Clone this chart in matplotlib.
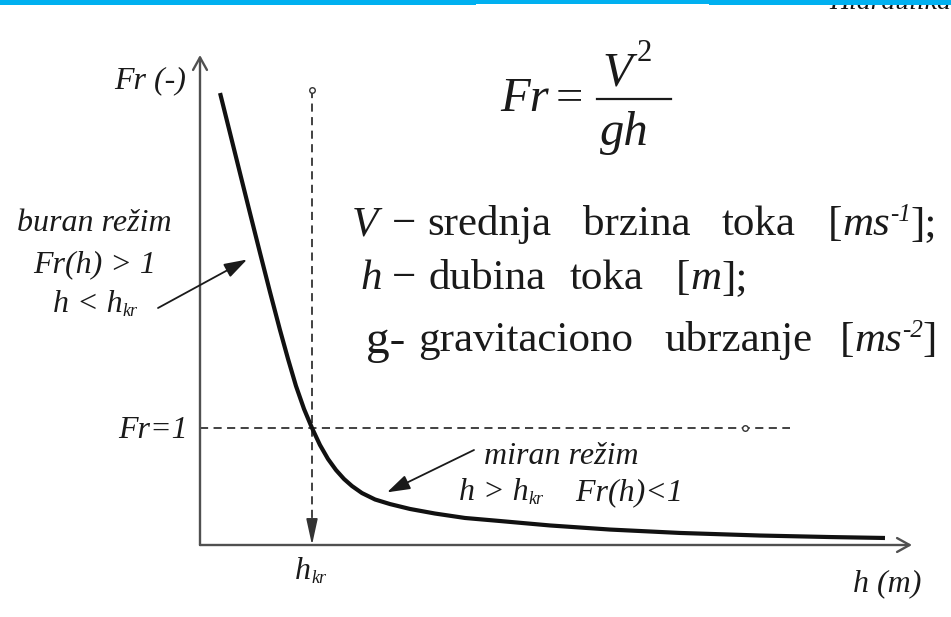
import matplotlib
matplotlib.use("Agg")
import matplotlib.pyplot as plt
from matplotlib.patches import Rectangle

plt.rcParams["font.family"] = ["Liberation Serif", "DejaVu Serif"]

# Froude number against flow depth (depth scaled so that h_kr = 1)
depth = [0.179, 0.268, 0.357, 0.446, 0.536, 0.625, 0.714, 0.786, 0.857, 0.929,
         1.000, 1.071, 1.143, 1.214, 1.286, 1.357, 1.446, 1.563, 1.696, 1.875,
         2.098, 2.366, 2.679, 3.125, 3.661, 4.286, 5.000, 5.625, 6.116]
froude = [3.863, 3.521, 3.179, 2.838, 2.496, 2.162, 1.838, 1.590, 1.359, 1.162,
          1.000, 0.855, 0.735, 0.641, 0.564, 0.504, 0.444, 0.389, 0.350, 0.308,
          0.269, 0.231, 0.205, 0.167, 0.132, 0.103, 0.081, 0.068, 0.060]
h_kr = 1.0
fr_crit = 1.0

# guide lines
fr_guide_top = 3.89     # upper end of the vertical h_kr guide
h_guide_end = 5.27      # right end of the Fr = 1 guide
h_guide_mark = 4.87     # small ring on the Fr = 1 guide

# points on the curve that the regime pointers aim at
buran_tip = (0.42, 2.44)
miran_tip = (1.67, 0.45)

W, H = 951, 617
fig = plt.figure(figsize=(W / 100, H / 100), dpi=100)
renderer = fig.canvas.get_renderer()
ink = "#1a1a1a"


def fpx(x, y):
    """figure pixel (from top-left) -> figure fraction"""
    return (x / W, 1 - y / H)


def run(x, y, parts, ha="left"):
    """Lay out text pieces one after another on a common baseline.
    parts: (text, fontsize, rise_px, italic); a None text is a gap of fontsize px"""
    arts, cx = [], x
    for txt, fs, rise, ital in parts:
        if txt is None:
            cx += fs
            continue
        t = fig.text(*fpx(cx, y - rise), txt, ha="left", va="baseline",
                     fontsize=fs, style="italic" if ital else "normal", color=ink)
        arts.append((t, cx, y - rise))
        cx += t.get_window_extent(renderer).width
    if ha in ("center", "right"):
        shift = (cx - x) / 2 if ha == "center" else cx - x
        for t, px_, py_ in arts:
            t.set_position(fpx(px_ - shift, py_))
    return cx


# plot frame: origin and axis-arrow tips in figure pixels
ox, oy, tx, ty = 200, 545, 912, 55
px_per_h, px_per_fr = 112.0, 117.0
h_max = (tx - ox) / px_per_h
fr_max = (oy - ty) / px_per_fr
ax = fig.add_axes([ox / W, 1 - oy / H, (tx - ox) / W, (oy - ty) / H])
ax.set_xlim(0, h_max)
ax.set_ylim(0, fr_max)
ax.axis("off")

axis_col = "#505050"
guide_col = "#333333"

# axes with open arrow heads
axis_kw = dict(arrowstyle="->,head_length=0.9,head_width=0.5", color=axis_col,
               lw=1.7, shrinkA=0, shrinkB=0, mutation_scale=10)
ax.annotate("", xy=(h_max, 0), xytext=(0, 0), arrowprops=axis_kw, annotation_clip=False)
ax.annotate("", xy=(0, fr_max), xytext=(0, 0), arrowprops=axis_kw, annotation_clip=False)

# Fr(h) curve
ax.plot(depth, froude, color="#111111", lw=3.0, solid_joinstyle="round",
        solid_capstyle="butt", clip_on=False, zorder=5)

# dashed guides
dash_kw = dict(color=guide_col, lw=1.3, dashes=(4.5, 3.0), clip_on=False)
head_len = 22 / px_per_fr
ax.plot([h_kr, h_kr], [fr_guide_top, head_len], **dash_kw)
ax.annotate("", xy=(h_kr, 0), xytext=(h_kr, head_len),
            arrowprops=dict(arrowstyle="-|>,head_length=1.6,head_width=0.35",
                            mutation_scale=10, color=guide_col, lw=1.2,
                            shrinkA=0, shrinkB=0), annotation_clip=False)
ax.plot([0, h_guide_end], [fr_crit, fr_crit], **dash_kw)
ring_kw = dict(marker="o", ms=4, mfc="white", mec=guide_col, mew=1.0, clip_on=False, zorder=6)
ax.plot([h_kr], [fr_guide_top], **ring_kw)
ax.plot([h_guide_mark], [fr_crit], **ring_kw)

# regime pointers
ptr_kw = dict(arrowstyle="-|>,head_length=1.4,head_width=0.45", mutation_scale=10,
              color=ink, lw=1.3, shrinkA=0, shrinkB=0)
ax.annotate("", xy=buran_tip, xytext=fpx(158, 308), textcoords="figure fraction",
            arrowprops=ptr_kw, annotation_clip=False)
ax.annotate("", xy=miran_tip, xytext=fpx(474, 450), textcoords="figure fraction",
            arrowprops=ptr_kw, annotation_clip=False)

# axis labels
fs = 23
fsub = 13
run(186, 88, [("Fr (-)", fs, 0, True)], ha="right")
run(188, 438, [("Fr=1", fs, 0, True)], ha="right")
run(295, 579, [("h", fs, 0, True), ("kr", fsub, -4, True)])
run(853, 591, [("h (m)", fs, 0, True)])

# supercritical flow note
run(94, 231, [("buran režim", fs, 0, True)], ha="center")
run(95, 272, [("Fr(h) > 1", fs, 0, True)], ha="center")
run(95, 312, [("h < h", fs, 0, True), ("kr", fsub, -4, True)], ha="center")

# subcritical flow note
run(484, 464, [("miran režim", fs, 0, True)])
run(459, 500, [("h > h", fs, 0, True), ("kr", fsub, -4, True),
               ("    Fr(h)<1", fs, 0, True)])

# Froude number definition
fe = 35
run(500, 111, [("Fr", fe, 0, True)])
run(556, 111, [("=", fe, 0, False)])
fig.add_artist(plt.Line2D([597 / W, 671 / W], [1 - 99 / H, 1 - 99 / H],
                          transform=fig.transFigure, color=ink, lw=1.6))
run(602, 86, [("V", fe, 0, True), (None, 5, 0, False), ("2", 22, 25, False)])
run(600, 145, [("gh", fe, 0, True)])

# symbol legend
fd = 31
fsup = 18
y1, y2, y3 = 235, 289, 351
run(352, y1, [("V", fd, 0, True)])
run(392, y1, [("−", fd, 0, False)])
run(427, y1, [("srednja", fd, 0, False)])
run(583, y1, [("brzina", fd, 0, False)])
run(722, y1, [("toka", fd, 0, False)])
run(937, y1, [("[", fd, 0, False), ("ms", fd, 0, True), ("-1", fsup, 14, True),
              ("];", fd, 0, False)], ha="right")

run(360, y2, [("h", fd, 0, True)])
run(392, y2, [("−", fd, 0, False)])
run(428, y2, [("dubina", fd, 0, False)])
run(570, y2, [("toka", fd, 0, False)])
run(676, y2, [("[", fd, 0, False), ("m", fd, 0, True), ("];", fd, 0, False)])

run(366, y3 + 2, [("g-", 34, 0, False)])
run(418, y3, [("gravitaciono", fd, 0, False)])
run(664, y3, [("ubrzanje", fd, 0, False)])
run(937, y3, [("[", fd, 0, False), ("ms", fd, 0, True), ("-2", fsup, 14, True),
              ("]", fd, 0, False)], ha="right")

# page header strip with the running title tucked beneath it
fig.text(*fpx(951, 9), "Hidraulika", ha="right", va="baseline", style="italic",
         fontsize=20, color="#111111")
bar_color = "#00B0F0"
for x0, x1, hgt in [(0, 476, 4.7), (476, 709, 4.0), (709, 951, 5.0)]:
    fig.add_artist(Rectangle((x0 / W, 1 - hgt / H), (x1 - x0) / W, hgt / H,
                             transform=fig.transFigure, color=bar_color, lw=0, zorder=10))

fig.savefig("out.png", dpi=100, facecolor="white")
